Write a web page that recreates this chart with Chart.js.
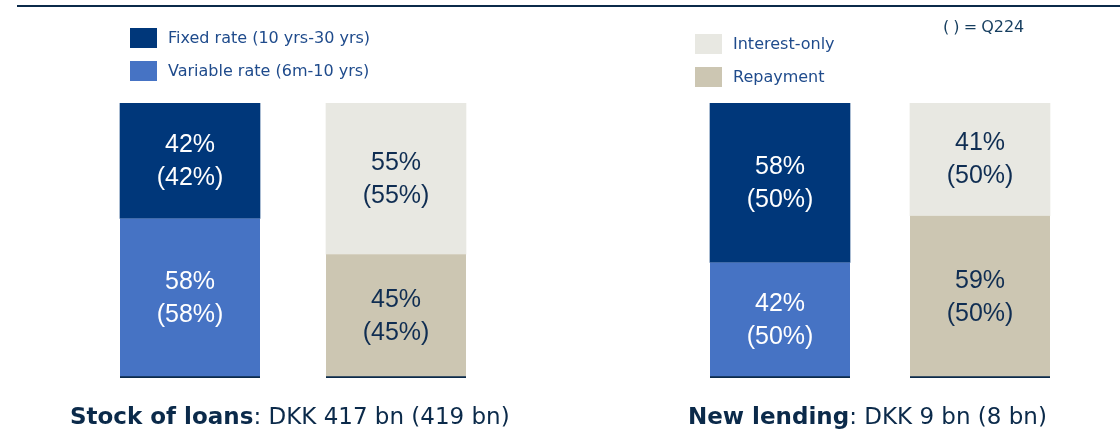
<!DOCTYPE html>
<html>
<head>
<meta charset="utf-8">
<script src="https://cdn.jsdelivr.net/npm/chart.js@4"></script>
<style>
    body { margin: 0; background: #fff; font-family: "DejaVu Sans", sans-serif; }
    #wrap { position: relative; width: 1120px; height: 432px; overflow: hidden; }
    .topline { position: absolute; left: 17px; right: 0; top: 5px; height: 2px; background: #0b2a4a; }
    .chartBox { position: absolute; top: 0; width: 560px; height: 432px; }
    .legend { position: absolute; font-size: 16px; color: #1f4b8c; }
    .legend .item { position: absolute; white-space: nowrap; }
    .legend .sw { position: absolute; left: 0; top: 0; width: 27px; height: 20px; }
    .legend .txt { position: absolute; left: 38px; top: 0; line-height: 20px; }
    .note { position: absolute; left: 943px; top: 17px; font-size: 16px; color: #163e5f; word-spacing: -1px; }
    .title { position: absolute; top: 403px; font-size: 23px; color: #0b2a4a; white-space: nowrap; }
</style>
</head>
<body>
<div id="wrap">
    <div class="topline"></div>
    <div class="chartBox" style="left:0"><canvas id="stockChart"></canvas></div>
    <div class="chartBox" style="left:560px"><canvas id="lendingChart"></canvas></div>
    <div class="legend" id="legendRate" style="left:130px; top:28px"></div>
    <div class="legend" id="legendType" style="left:695px; top:34px"></div>
    <div class="note">( ) = Q224</div>
    <div class="title" style="left:70px"><b>Stock of loans</b>: DKK 417 bn (419 bn)</div>
    <div class="title" style="left:688px"><b>New lending</b>: DKK 9 bn (8 bn)</div>
</div>
<script>
// Data
const rateLabels = ["Fixed rate (10 yrs-30 yrs)", "Variable rate (6m-10 yrs)"];
const typeLabels = ["Interest-only", "Repayment"];

// [rate bar, type bar] - current quarter and Q224 in brackets
const stockFixed = [42, 55];      // fixed / interest-only
const stockFixedPrev = [42, 55];
const stockVariable = [58, 45];   // variable / repayment
const stockVariablePrev = [58, 45];

const lendingFixed = [58, 41];
const lendingFixedPrev = [50, 50];
const lendingVariable = [42, 59];
const lendingVariablePrev = [50, 50];

const colors = {
    fixed: "#00377a",
    variable: "#4673c4",
    interest: "#e8e8e2",
    repayment: "#ccc6b2",
    base: "#0b2a4a"
};

function buildLegend(id, labels, swatches) {
    const el = document.getElementById(id);
    el.innerHTML = labels.map((label, i) => `
        <div class="item" style="top:${i * 32.5}px">
            <div class="sw" style="background:${swatches[i]}"></div>
            <div class="txt">${label}</div>
        </div>
    `).join("");
}

buildLegend("legendRate", rateLabels, [colors.fixed, colors.variable]);
buildLegend("legendType", typeLabels, [colors.interest, colors.repayment]);

const valueLabels = {
    id: "valueLabels",
    afterDatasetsDraw(chart) {
        const ctx = chart.ctx;
        ctx.save();
        ctx.font = "25px 'Liberation Sans', Arial, sans-serif";
        ctx.textAlign = "center";
        ctx.textBaseline = "middle";
        chart.data.datasets.forEach((ds, di) => {
            const meta = chart.getDatasetMeta(di);
            meta.data.forEach((bar, i) => {
                const v = ds.data[i];
                if (v === null || v === undefined) return;
                const mid = (bar.y + bar.base) / 2;
                ctx.fillStyle = ds.textColor;
                ctx.fillText(v + "%", bar.x, mid - 16);
                ctx.fillText("(" + ds.prev[i] + "%)", bar.x, mid + 17);
            });
        });
        ctx.restore();
    }
};

function makeChart(canvasId, fixed, fixedPrev, variable, variablePrev, padLeft, padRight) {
    const bottomBorder = { top: 0, left: 0, right: 0, bottom: 2 };
    return new Chart(document.getElementById(canvasId), {
        type: "bar",
        data: {
            labels: ["rate", "type"],
            datasets: [
                {
                    label: rateLabels[1],
                    data: [variable[0], null],
                    prev: [variablePrev[0], null],
                    backgroundColor: colors.variable,
                    borderColor: colors.base,
                    borderWidth: bottomBorder,
                    borderSkipped: false,
                    textColor: "#ffffff"
                },
                {
                    label: rateLabels[0],
                    data: [fixed[0], null],
                    prev: [fixedPrev[0], null],
                    backgroundColor: colors.fixed,
                    borderWidth: 0,
                    textColor: "#ffffff"
                },
                {
                    label: typeLabels[1],
                    data: [null, variable[1]],
                    prev: [null, variablePrev[1]],
                    backgroundColor: colors.repayment,
                    borderColor: colors.base,
                    borderWidth: bottomBorder,
                    borderSkipped: false,
                    textColor: "#0f2d52"
                },
                {
                    label: typeLabels[0],
                    data: [null, fixed[1]],
                    prev: [null, fixedPrev[1]],
                    backgroundColor: colors.interest,
                    borderWidth: 0,
                    textColor: "#0f2d52"
                }
            ]
        },
        options: {
            responsive: true,
            maintainAspectRatio: false,
            animation: false,
            barThickness: 140,
            layout: { padding: { top: 103, bottom: 54, left: padLeft, right: padRight } },
            scales: {
                x: { stacked: true, display: false },
                y: { stacked: true, display: false, min: 0, max: 100 }
            },
            plugins: {
                legend: { display: false },
                tooltip: { enabled: false }
            }
        },
        plugins: [valueLabels]
    });
}

makeChart("stockChart", stockFixed, stockFixedPrev, stockVariable, stockVariablePrev, 87, 61);
makeChart("lendingChart", lendingFixed, lendingFixedPrev, lendingVariable, lendingVariablePrev, 120, 40);
</script>
</body>
</html>
